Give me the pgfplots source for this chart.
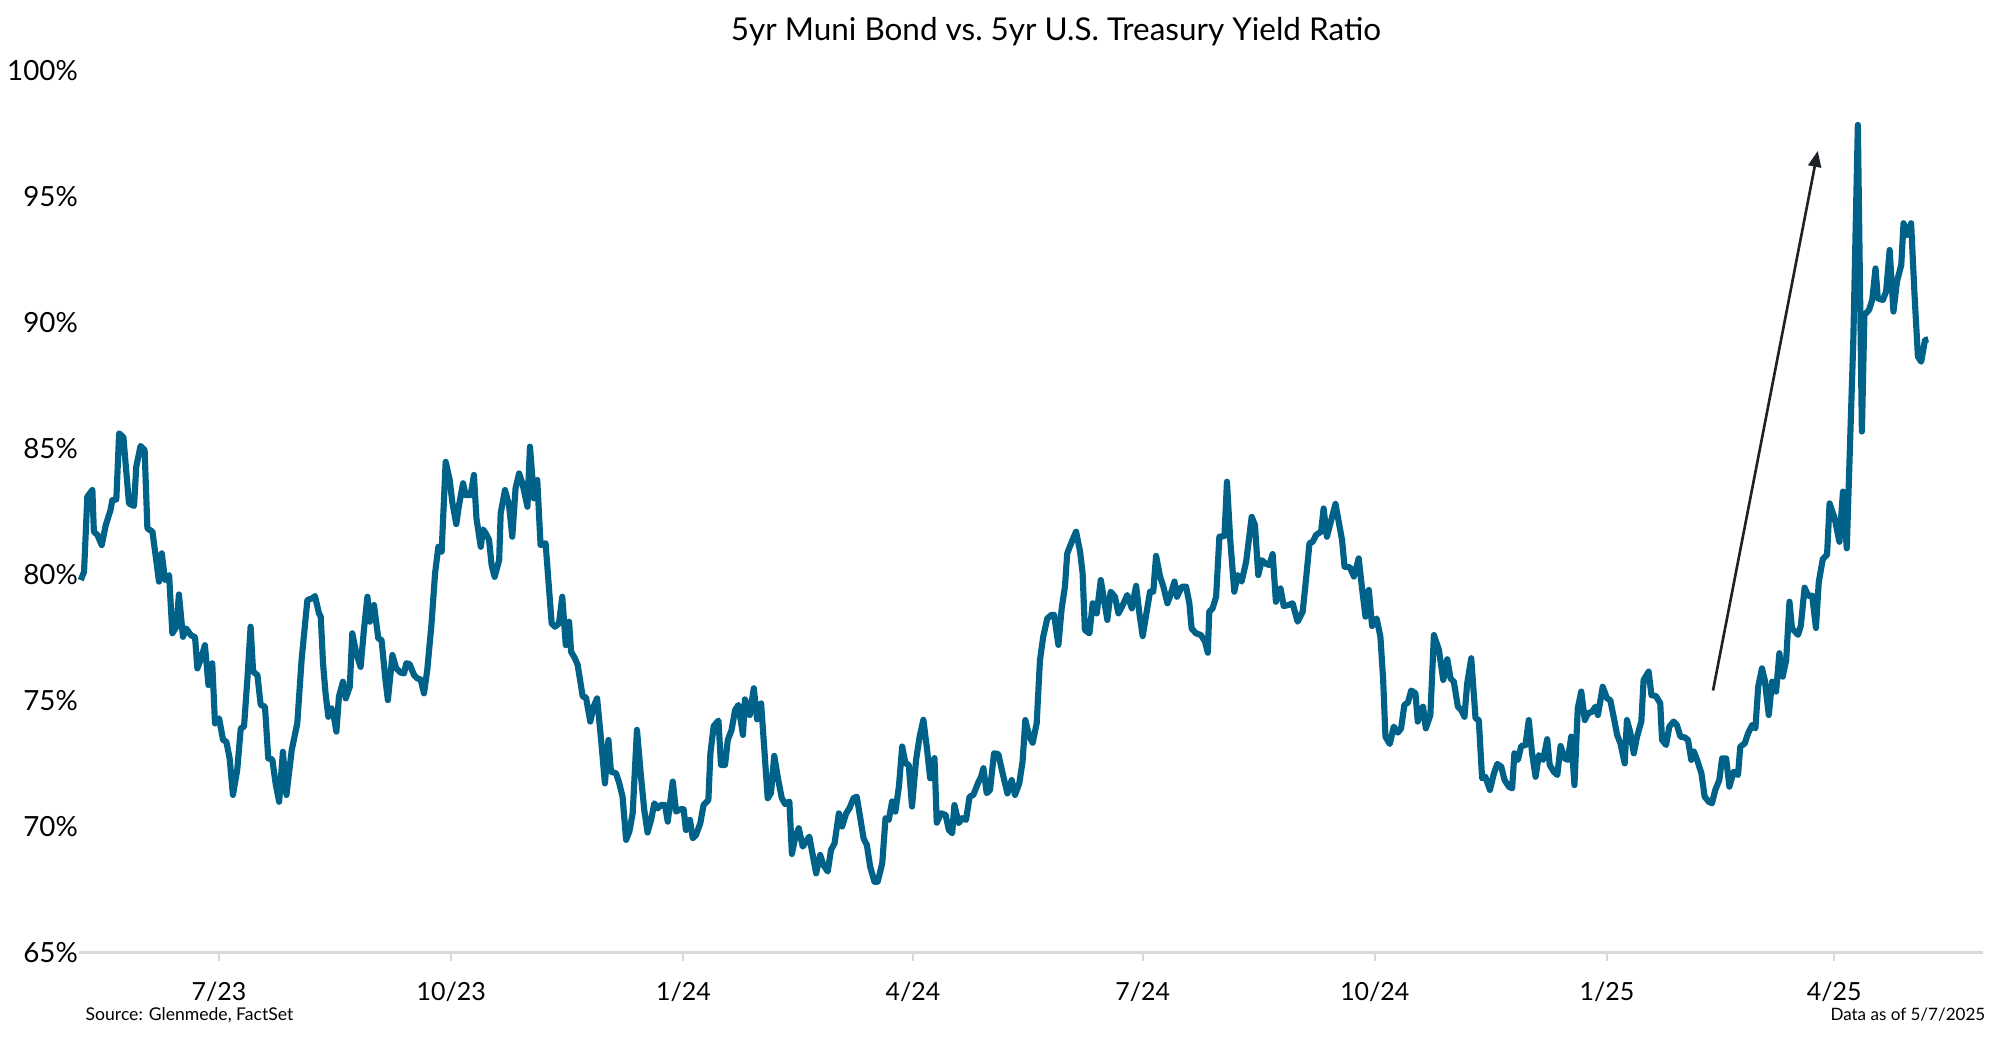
\documentclass[border=0pt]{standalone}
\usepackage{fontspec}
\setmainfont{Lato}
\usepackage{pgfplots}
\usepackage{pgfplotstable}
\pgfplotsset{compat=1.18}
\usetikzlibrary{arrows.meta}
\definecolor{muni}{RGB}{0,98,136}
\definecolor{arrowc}{RGB}{30,34,40}
\definecolor{axisgray}{RGB}{217,217,217}

% day = days since 1 Jan 2023, ratio in percent
\pgfplotstableread{
day ratio
126.2 79.78
127.5 80.11
128.8 83.09
130.8 83.35
131.4 81.70
132.8 81.57
134.5 81.17
136.1 81.96
138.0 82.56
138.7 82.95
140.3 82.98
141.4 85.60
143.1 85.44
145.3 82.82
147.3 82.72
148.2 84.28
149.9 85.10
151.5 84.94
152.6 81.83
154.6 81.70
156.1 80.57
157.2 79.72
158.3 80.84
159.6 79.78
161.2 79.98
162.5 77.67
164.1 77.93
165.1 79.21
166.7 77.53
168.0 77.86
169.8 77.60
171.5 77.51
172.4 76.28
174.1 76.74
175.4 77.20
176.8 75.62
178.3 76.48
179.4 74.10
181.0 74.30
182.6 73.44
183.9 73.37
185.2 72.71
186.5 71.26
188.2 72.25
189.6 73.90
190.9 73.97
192.2 75.82
193.5 77.93
194.5 76.15
196.2 76.01
197.5 74.83
199.2 74.76
200.5 72.71
202.1 72.67
203.4 71.72
204.8 70.99
206.3 72.97
207.7 71.26
209.8 73.04
212.0 74.10
213.7 76.61
216.0 78.99
218.0 79.06
219.0 79.15
220.6 78.46
221.3 78.33
222.2 76.48
223.2 75.29
224.3 74.36
225.6 74.69
226.5 74.36
227.5 73.77
228.5 75.16
230.1 75.75
231.2 75.09
232.8 75.55
233.8 77.67
235.4 76.87
237.1 76.34
238.4 77.80
239.8 79.12
240.8 78.13
242.4 78.79
244.1 77.47
245.4 77.40
246.8 75.95
247.9 75.02
249.7 76.81
251.2 76.28
253.0 76.11
254.3 76.08
255.2 76.48
256.5 76.45
258.3 76.01
259.6 75.88
260.9 75.84
262.2 75.29
263.5 76.21
265.2 78.06
266.6 80.05
267.9 81.10
269.2 80.91
270.8 84.47
272.4 83.75
273.4 82.89
275.0 82.00
276.1 82.76
277.7 83.62
278.7 83.15
280.7 83.15
282.0 83.95
283.0 82.23
284.7 81.10
285.6 81.79
286.7 81.63
288.0 81.37
289.0 80.38
290.2 79.91
292.0 80.57
292.6 82.43
294.3 83.35
295.9 82.76
297.2 81.50
298.5 83.42
299.9 84.01
301.2 83.62
303.2 82.69
304.2 85.07
305.8 83.02
307.1 83.75
308.4 81.17
310.4 81.24
311.5 79.78
312.8 78.06
314.1 77.93
315.7 78.06
317.0 79.12
318.4 77.20
319.7 78.13
320.5 76.94
322.0 76.68
323.1 76.42
325.1 75.16
326.4 75.13
328.1 74.17
329.4 74.76
330.8 75.09
332.4 73.44
333.9 71.72
335.3 73.44
336.3 72.18
338.3 72.12
339.6 71.72
340.9 71.19
342.3 69.48
343.6 69.81
344.9 70.53
346.6 73.84
348.2 71.99
349.5 70.66
350.8 69.77
352.2 70.27
353.5 70.93
354.8 70.73
356.1 70.86
357.7 70.86
358.8 70.20
360.8 71.79
362.1 70.60
363.8 70.69
365.1 70.69
366.0 69.87
367.6 70.27
368.7 69.54
370.0 69.67
371.7 70.14
373.0 70.86
374.9 71.06
375.7 72.91
377.0 73.99
378.9 74.21
379.9 72.45
381.5 72.45
382.6 73.44
384.1 73.84
385.5 74.63
386.8 74.83
388.6 73.64
389.4 75.05
391.3 74.43
392.9 75.49
394.2 74.26
395.8 74.89
397.1 73.04
398.4 71.13
399.7 71.33
401.0 72.81
402.6 71.85
404.0 71.13
405.3 70.90
407.0 71.00
408.0 68.92
409.4 69.61
410.7 69.94
412.3 69.21
414.9 69.61
417.6 68.15
419.2 68.88
420.5 68.48
422.2 68.22
423.5 69.08
424.9 69.34
426.6 70.53
427.9 70.01
429.5 70.53
430.8 70.73
432.4 71.13
433.7 71.19
435.0 70.40
436.4 69.54
437.7 69.28
439.0 68.42
440.7 67.82
442.0 67.82
443.8 68.55
445.1 70.34
446.4 70.27
447.7 71.00
449.0 70.60
450.4 71.59
451.7 73.18
453.0 72.52
454.3 72.45
455.6 70.80
457.2 72.65
458.6 73.57
460.1 74.24
461.5 73.11
462.8 71.92
464.5 72.72
465.4 70.16
467.1 70.53
468.9 70.47
470.2 69.87
471.5 69.74
472.4 70.86
474.1 70.14
475.5 70.34
477.0 70.27
478.4 71.19
479.9 71.26
481.7 71.72
483.0 71.99
483.9 72.32
485.2 71.33
486.5 71.46
488.1 72.91
489.8 72.88
491.5 72.12
493.4 71.32
495.1 71.85
496.4 71.26
498.1 71.72
499.4 72.58
500.5 74.23
502.1 73.57
503.4 73.33
505.0 74.10
506.3 76.61
507.6 77.54
509.2 78.26
510.9 78.40
511.9 78.40
513.6 77.21
514.9 78.66
516.2 79.52
517.1 80.84
518.9 81.30
520.6 81.70
522.2 80.91
523.2 80.05
524.1 77.80
525.9 77.67
527.2 78.86
528.8 78.46
530.4 79.78
531.7 78.99
533.0 78.20
534.3 79.32
536.0 79.12
537.4 78.46
539.1 78.79
540.9 79.19
542.7 78.66
544.4 79.55
545.7 78.46
547.0 77.56
548.6 78.53
549.9 79.32
551.2 79.32
552.3 80.74
553.9 79.92
555.2 79.52
556.8 78.86
557.8 79.12
559.6 79.72
560.6 79.12
562.5 79.52
564.2 79.52
565.5 78.86
566.4 77.86
568.1 77.67
570.1 77.60
571.7 77.34
572.8 76.90
573.4 78.53
574.7 78.66
576.1 79.12
577.4 81.50
579.4 81.53
580.4 83.68
581.7 81.37
583.3 79.32
584.7 79.98
586.2 79.72
588.0 80.51
590.2 82.29
591.5 81.96
592.8 79.98
594.2 80.57
595.9 80.42
597.2 80.38
598.5 80.81
599.8 78.92
601.6 79.45
602.9 78.75
604.7 78.79
606.4 78.86
608.4 78.13
610.4 78.53
611.7 79.78
613.1 81.24
614.4 81.30
615.7 81.57
617.7 81.70
618.7 82.62
620.0 81.50
623.4 82.80
626.0 81.37
627.0 80.31
629.1 80.29
630.7 79.92
632.6 80.64
634.0 79.39
635.3 78.33
636.6 79.39
637.9 77.96
639.7 78.26
641.2 77.54
642.3 75.82
643.2 73.57
644.9 73.28
646.5 73.97
648.1 73.73
649.4 73.90
650.7 74.83
652.1 74.92
653.4 75.40
655.1 75.29
656.0 74.17
657.1 74.50
658.1 74.76
659.2 73.90
661.0 74.43
662.4 77.60
664.4 77.01
666.1 75.82
667.7 76.64
669.0 75.88
670.3 75.75
671.9 74.76
673.2 74.63
674.5 74.36
675.6 75.69
677.2 76.68
678.9 74.30
680.2 74.23
681.5 71.92
682.8 71.98
684.6 71.46
686.2 72.12
687.5 72.49
689.1 72.38
690.4 71.85
692.1 71.59
693.4 71.52
694.3 72.91
695.7 72.65
697.0 73.20
698.7 73.24
700.0 74.23
701.3 72.91
702.7 71.98
704.0 72.84
705.7 72.65
707.3 73.47
708.3 72.45
709.9 72.18
711.3 72.05
712.6 73.20
714.2 72.71
715.5 72.65
716.8 73.57
718.1 71.65
719.4 74.69
720.8 75.36
722.2 74.23
723.5 74.50
725.1 74.56
726.4 74.76
727.4 74.43
729.3 75.55
731.0 75.09
732.3 75.02
734.0 74.17
735.0 73.64
736.3 73.31
738.0 72.51
738.9 74.23
740.3 73.70
741.6 72.91
742.9 73.57
744.6 74.17
745.5 75.82
747.5 76.15
748.6 75.22
750.4 75.18
752.1 74.89
752.8 73.44
754.4 73.24
755.7 73.97
757.4 74.17
758.7 74.03
760.1 73.57
761.8 73.54
763.1 73.44
764.4 72.65
765.4 72.98
766.7 72.65
768.4 72.12
769.7 71.19
771.3 70.99
772.6 70.93
773.9 71.46
775.5 71.85
776.6 72.71
778.2 72.71
779.5 71.59
781.2 72.18
782.9 72.05
783.8 73.17
785.6 73.31
786.9 73.70
788.5 74.03
789.8 73.90
790.9 75.55
792.4 76.28
793.5 75.82
795.1 74.43
796.4 75.75
798.0 75.36
799.3 76.88
800.6 75.95
802.0 76.61
803.3 78.92
804.3 77.87
805.0 77.79
806.7 77.61
807.8 77.97
809.3 79.48
810.7 79.16
812.3 79.16
813.8 77.88
814.9 79.70
816.5 80.61
818.2 80.79
819.2 82.82
821.2 82.23
823.1 81.30
824.5 83.29
826.0 81.04
828.6 89.30
830.4 97.83
832.0 85.67
833.0 90.29
834.8 90.49
836.1 90.89
837.4 92.14
838.3 90.95
840.3 90.89
841.6 91.22
843.0 92.87
844.5 90.43
845.9 91.62
847.6 92.28
848.5 93.93
849.8 93.47
851.5 93.93
852.9 91.02
854.2 88.64
855.5 88.44
857.0 89.30
858.3 89.33
}\ratiodata

\begin{document}
\begin{tikzpicture}
\useasboundingbox (-0.79cm,-0.832cm) rectangle (19.21cm,9.528cm);
\begin{axis}[
  at={(0,0)}, anchor=south west,
  width=19.04cm, height=8.826cm, scale only axis,
  xmin=125.5, xmax=880, ymin=65, ymax=100,
  axis lines*=left,
  y axis line style={draw=none},
  x axis line style={draw=axisgray, line width=0.8pt},
  xtick={181,273,365,456,547,639,731,821},
  xticklabels={7/23,10/23,1/24,4/24,7/24,10/24,1/25,4/25},
  ytick={65,70,...,100},
  yticklabel={\pgfmathprintnumber{\tick}\%},
  tick align=outside,
  major tick length=0.8mm,
  x tick style={draw=axisgray, line width=0.6pt},
  y tick style={draw=none},
  /pgf/number format/assume math mode=true,
  tick label style={font=\fontsize{7.1}{8}\selectfont, text=black},
  yticklabel style={anchor=east, inner sep=0pt, xshift=0.75mm, font=\fontsize{7.9}{8}\selectfont},
  xticklabel style={anchor=north, yshift=-0.9mm},
  clip=false,
]
\addplot[muni, line width=1.75pt, line join=round, no markers] table[x=day, y=ratio] {\ratiodata};
\draw[arrowc, line width=0.75pt, -{Triangle[length=1.6mm, width=1.3mm]}] (axis cs:773.0,75.4) -- (axis cs:814.5,96.8);
\end{axis}
\node[anchor=base, font=\fontsize{8.95}{10}\selectfont, inner sep=0pt] at (9.77cm,9.12cm) {5yr Muni Bond vs.\ 5yr U.S. Treasury Yield Ratio};
\node[anchor=west, font=\fontsize{5.0}{6}\selectfont, inner sep=0pt] at (0.06cm,-0.62cm) {Source: Glenmede, FactSet};
\node[anchor=east, font=\fontsize{4.85}{6}\selectfont, inner sep=0pt] at (19.07cm,-0.62cm) {Data as of 5/7/2025};
\end{tikzpicture}
\end{document}
